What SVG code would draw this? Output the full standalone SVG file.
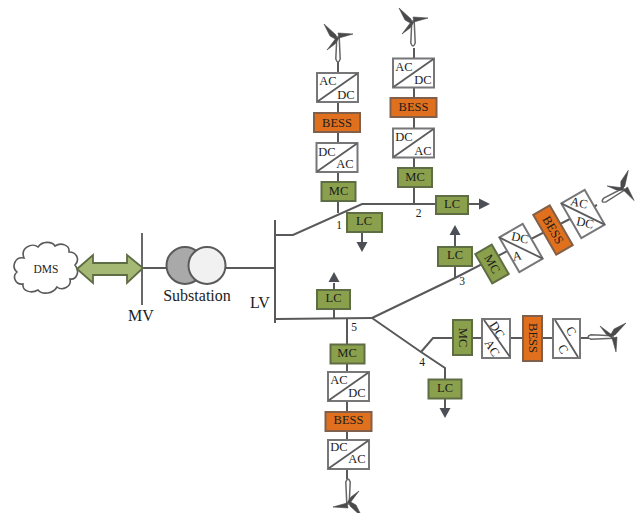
<svg xmlns="http://www.w3.org/2000/svg" width="638" height="513" viewBox="0 0 638 513">
<style>
text{font-family:"Liberation Serif","Times New Roman",serif;fill:#1c1c1c;text-anchor:middle;dominant-baseline:central}
.t12{font-size:12.5px}.t11{font-size:11.5px}.t15{font-size:16px}
.ln{fill:none;stroke:#59595b;stroke-width:2}
.g{fill:#8ba04c;stroke:#5f6d44;stroke-width:2}
.o{fill:#e0701e;stroke:#80604a;stroke-width:2}
.w{fill:#fff;stroke:#77777a;stroke-width:2}
.d{fill:none;stroke:#5c5c5e;stroke-width:1.8}
.ah{fill:#4c4f55}
.bl{fill:#4a4a4c;stroke:#4a4a4c;stroke-width:.6}
.tw{fill:#fff;stroke:#666;stroke-width:1.5}
</style>
<defs>
<g id="turb">
<path class="tw" d="M-1.200 0L-2.200 22Q0 28 2.200 22L1.200 0Z"/>
<path class="bl" d="M-2 -2L-14 -13L-8 -1L-1 3ZM0 -4L15 -3L1 1ZM-2 1L-11 13L-3 7L1 1Z"/>
</g>
<rect id="mcbox" x="-17" y="-9.500" width="34" height="19" class="g"/>
<rect id="bessbox" x="-23" y="-9.500" width="46" height="19" class="o"/>
<g id="conv"><rect x="-20.500" y="-14.500" width="41" height="29" class="w"/><path class="d" d="M-20 14L20 -14"/></g>
<g id="vhead"><path class="ah" d="M0 0L-5.500 -10H5.500Z"/></g>
</defs>
<g id="connectors">
<path class="ln" d="M338 62V213M414 48V204"/>
<path class="ln" d="M275 235H293L362 204H436M468 204H480"/>
<path class="ln" d="M275 220V323"/>
<path class="ln" d="M276 319L372 318"/>
<path class="ln" d="M372 318L455 278L597 205"/>
<path class="ln" d="M372 318L421 352L445 368V379M421 352L433 338H453M472 338H596"/>
<path class="ln" d="M347 318V479"/>
<path class="ln" d="M334 318V283M455 278V234M362 232V243M445 399V409"/>
<path class="ln" d="M142 233V305" style="stroke-width:1.800"/>
<path class="ln" d="M142 268H166M226 268H275"/>
<path class="ah" d="M490 204L479 198.500V209.500Z"/>
<use href="#vhead" transform="translate(362 252)"/>
<use href="#vhead" transform="translate(445 418)"/>
<use href="#vhead" transform="translate(334 272) scale(1 -1)"/>
<use href="#vhead" transform="translate(455 225) scale(1 -1)"/>
</g>
<g id="dms">
<path d="M24 258C20 248 32 242 38 247C42 241 52 241 55 246C61 242 70 245 69 252C77 252 80 260 75 265C80 271 77 280 70 279C72 287 62 291 57 287C53 294 42 295 38 290C31 294 22 291 23 284C15 285 12 276 17 272C11 267 15 256 24 258Z" fill="#fff" stroke="#5a5a5a" stroke-width="1.600"/>
<text x="46" y="269" class="t11">DMS</text>
</g>
<g id="dms-link"><path d="M77 269L93 255V263H127V255L143 268L127 283V275H93V283Z" fill="#a6b974" stroke="#5f6d44" stroke-width="1.800"/></g>
<g id="substation">
<circle cx="185" cy="265.500" r="18.500" fill="#a9a9a9" stroke="#5a5a5a" stroke-width="2"/>
<circle cx="207" cy="265.500" r="18.500" fill="#f1f1f1" stroke="#5a5a5a" stroke-width="2"/>
<text x="197" y="295" class="t15">Substation</text>
</g>
<g id="bus-labels">
<text x="141" y="315" class="t15">MV</text>
<text x="260" y="302" class="t15">LV</text>
<text x="339" y="225" class="t11">1</text>
<text x="418.500" y="213" class="t11">2</text>
<text x="462" y="281" class="t11">3</text>
<text x="422" y="362" class="t11">4</text>
<text x="354" y="327" class="t11">5</text>
</g>
<g id="feeder1">
<use href="#turb" transform="translate(338 37)"/>
<use href="#conv" transform="translate(337.500 87.500)"/><text x="328" y="81" class="t12">AC</text><text x="346" y="95" class="t12">DC</text>
<use href="#bessbox" transform="translate(337 122.500)"/><text x="337" y="122.500" class="t12">BESS</text>
<use href="#conv" transform="translate(337 157.500)"/><text x="327" y="152" class="t12">DC</text><text x="345" y="164" class="t12">AC</text>
<use href="#mcbox" transform="translate(338.500 191.500)"/><text x="338.500" y="191" class="t12">MC</text>
</g>
<g id="lc1"><rect x="347" y="213" width="35" height="19" class="g"/><text x="364" y="221" class="t12">LC</text></g>
<g id="feeder2">
<use href="#turb" transform="translate(413 21)"/>
<use href="#conv" transform="translate(413.500 73)"/><text x="404" y="67" class="t12">AC</text><text x="423" y="80" class="t12">DC</text>
<use href="#bessbox" transform="translate(413.500 107.500)"/><text x="413.500" y="107" class="t12">BESS</text>
<use href="#conv" transform="translate(413.500 143)"/><text x="404" y="137" class="t12">DC</text><text x="423" y="151" class="t12">AC</text>
<use href="#mcbox" transform="translate(415 177.500)"/><text x="415" y="177" class="t12">MC</text>
</g>
<g id="lc2"><rect x="436" y="196" width="32" height="18" class="g"/><text x="452" y="204" class="t12">LC</text></g>
<g id="lc3"><rect x="438" y="247" width="34" height="19" class="g"/><text x="455" y="255" class="t12">LC</text></g>
<g id="feeder3">
<g transform="translate(492 264) rotate(60)"><use href="#mcbox"/><text y="0" class="t12">MC</text></g>
<g transform="translate(521 248) rotate(60)"><rect x="-20" y="-13.500" width="40" height="27" class="w"/><path class="d" d="M-20 13.500L20 -13.500"/></g>
<text x="520" y="238" class="t12" transform="rotate(12 520 238)">DC</text>
<text x="517" y="256" class="t12" transform="rotate(-10 517 256)">A</text>
<g transform="translate(553 230) rotate(60)"><use href="#bessbox"/><text y="0" class="t12">BESS</text></g>
<g transform="translate(583 214) rotate(60)"><rect x="-20" y="-13.500" width="40" height="27" class="w"/><path class="d" d="M-20 13.500L20 -13.500"/></g>
<text x="579" y="203" class="t12" transform="rotate(12 579 203)">AC</text>
<text x="585" y="223" class="t12" transform="rotate(12 585 223)">DC</text>
<use href="#turb" transform="translate(624 189) rotate(60)"/>
</g>
<g id="feeder4">
<rect x="453" y="320" width="19" height="35" class="g"/><text x="462.500" y="337.500" class="t12" transform="rotate(90 462.500 337.500)">MC</text>
<rect x="482" y="319" width="28" height="39" class="w"/><path class="d" d="M484 320L510 357"/>
<text x="497" y="330" class="t12" transform="rotate(58 497 330)">DC</text>
<text x="492" y="348" class="t12" transform="rotate(58 492 348)">AC</text>
<rect x="523" y="316" width="19" height="45" class="o"/><text x="532.500" y="338" class="t12" transform="rotate(90 532.500 338)">BESS</text>
<rect x="553" y="319" width="27" height="39" class="w"/><path class="d" d="M555 320L578 357"/>
<text x="571" y="331" class="t12" transform="rotate(60 571 331)">C</text>
<text x="563" y="349" class="t12" transform="rotate(60 563 349)">C</text>
<use href="#turb" transform="translate(613 337) rotate(90)"/>
</g>
<g id="lc4"><rect x="428.500" y="379.500" width="33" height="19" class="g"/><text x="445" y="388" class="t12">LC</text></g>
<g id="lc5"><rect x="317" y="290" width="33" height="19" class="g"/><text x="333.500" y="298" class="t12">LC</text></g>
<g id="feeder5">
<use href="#mcbox" transform="translate(347.500 354)"/><text x="347" y="353" class="t12">MC</text>
<use href="#conv" transform="translate(348.500 386.500)"/><text x="339" y="380" class="t12">AC</text><text x="357" y="393" class="t12">DC</text>
<use href="#bessbox" transform="translate(348.500 421.500)"/><text x="348.500" y="420" class="t12">BESS</text>
<use href="#conv" transform="translate(348.500 454.500)"/><text x="339" y="447" class="t12">DC</text><text x="357" y="459" class="t12">AC</text>
<use href="#turb" transform="translate(348 504) rotate(180)"/>
</g>
</svg>
